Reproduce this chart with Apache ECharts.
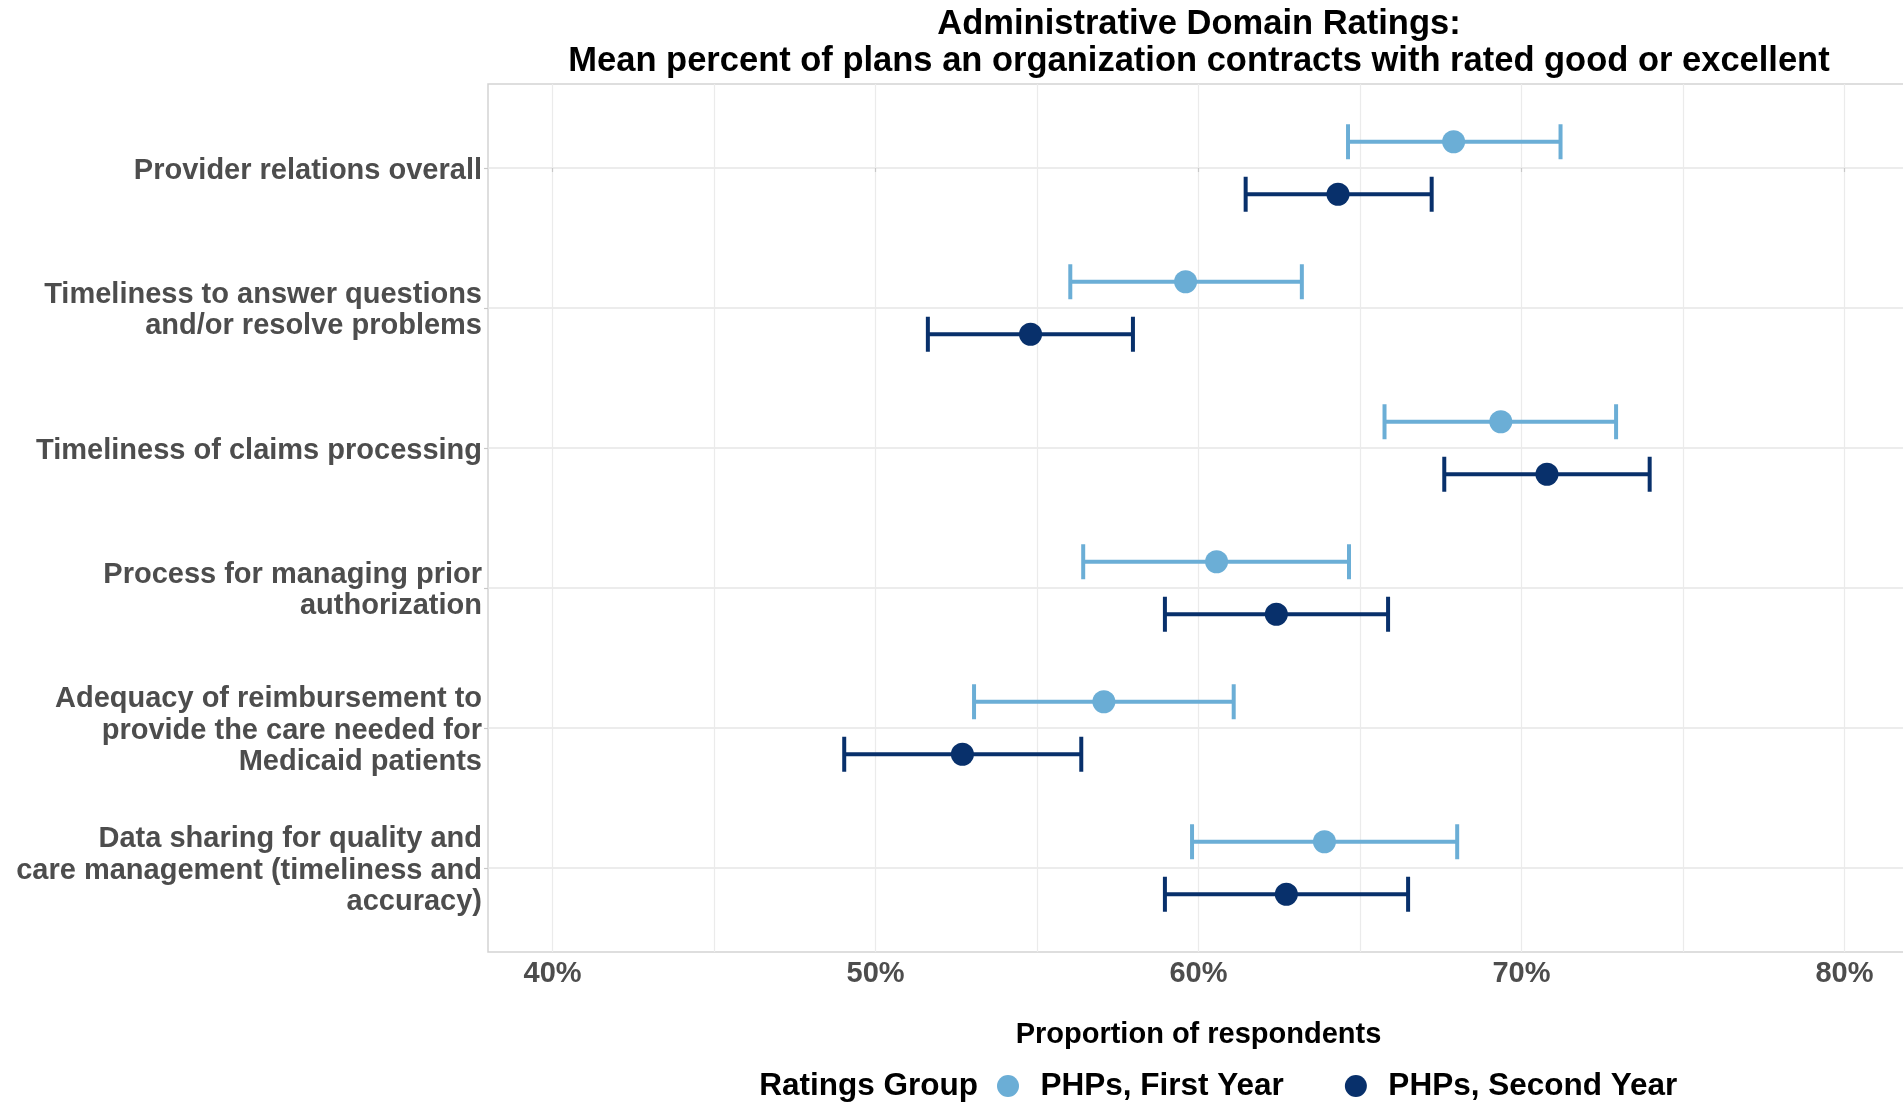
<!DOCTYPE html>
<html>
<head>
<meta charset="utf-8">
<title>Administrative Domain Ratings</title>
<script src="https://cdn.jsdelivr.net/npm/echarts@6/dist/echarts.min.js"></script>
<style>
  html, body { margin: 0; padding: 0; background: #ffffff; }
  #chart { width: 1903px; height: 1102px; }
</style>
</head>
<body>
<div id="chart"></div>
<script>
// Rated domains, top to bottom
const categories = [
  'Provider relations overall',
  'Timeliness to answer questions\nand/or resolve problems',
  'Timeliness of claims processing',
  'Process for managing prior\nauthorization',
  'Adequacy of reimbursement to\nprovide the care needed for\nMedicaid patients',
  'Data sharing for quality and\ncare management (timeliness and\naccuracy)'
];

// PHPs, First Year: mean and interval bounds (%)
const firstMean = [67.9, 59.6, 69.36, 60.56, 57.07, 63.9];
const firstLow  = [64.63, 56.03, 65.76, 56.43, 53.05, 59.8];
const firstHigh = [71.21, 63.2, 72.93, 64.66, 61.09, 68.01];

// PHPs, Second Year: mean and interval bounds (%)
const secondMean = [64.32, 54.8, 70.79, 62.41, 52.69, 62.72];
const secondLow  = [61.46, 51.62, 67.61, 58.96, 49.03, 58.96];
const secondHigh = [67.22, 57.97, 73.97, 65.87, 56.37, 66.49];

const xTicks = [40, 50, 60, 70, 80];
const xGrid = [40, 45, 50, 55, 60, 65, 70, 75, 80];

const groupNames = ['PHPs, First Year', 'PHPs, Second Year'];
const groupColors = ['#6BAED6', '#08306B'];

const FONT = '"Liberation Sans", Arial, sans-serif';
const DODGE = 0.1875;      // vertical offset of each group from its row
const CAP = 0.125;         // half-height of the error bar caps (row units)
const LABEL_NUDGE = 0.018; // small downward shift of the row labels

const rows = categories.map((_, i) => i);

function pointData(means, off) {
  return means.map((v, i) => [v, i + off]);
}
function barData(lows, highs, off) {
  return lows.map((lo, i) => [lo, highs[i], i + off]);
}

function errorBarRenderer(color) {
  return function (params, api) {
    const lo = api.value(0), hi = api.value(1), y = api.value(2);
    const p1 = api.coord([lo, y]);
    const p2 = api.coord([hi, y]);
    const yTop = api.coord([lo, y - CAP])[1];
    const yBot = api.coord([lo, y + CAP])[1];
    const style = { stroke: color, lineWidth: 4 };
    return {
      type: 'group',
      children: [
        { type: 'line', shape: { x1: p1[0], y1: p1[1], x2: p2[0], y2: p2[1] }, style },
        { type: 'line', shape: { x1: p1[0], y1: yTop, x2: p1[0], y2: yBot }, style },
        { type: 'line', shape: { x1: p2[0], y1: yTop, x2: p2[0], y2: yBot }, style }
      ]
    };
  };
}

const offsets = [-DODGE, DODGE];
const means = [firstMean, secondMean];
const lows = [firstLow, secondLow];
const highs = [firstHigh, secondHigh];

const series = [];
groupNames.forEach((name, g) => {
  series.push({
    name,
    type: 'custom',
    renderItem: errorBarRenderer(groupColors[g]),
    encode: { x: [0, 1], y: 2 },
    itemStyle: { color: groupColors[g] },
    data: barData(lows[g], highs[g], offsets[g]),
    z: 2,
    silent: true
  });
});
groupNames.forEach((name, g) => {
  series.push({
    name,
    type: 'scatter',
    symbol: 'circle',
    symbolSize: 23,
    itemStyle: { color: groupColors[g], opacity: 1 },
    data: pointData(means[g], offsets[g]),
    z: 3
  });
});

const chart = echarts.init(document.getElementById('chart'), null, { renderer: 'canvas' });
chart.setOption({
  animation: false,
  backgroundColor: '#ffffff',
  title: [
    {
      text: 'Administrative Domain Ratings:\nMean percent of plans an organization contracts with rated good or excellent',
      left: 1199,
      top: 6,
      padding: 0,
      textAlign: 'center',
      textStyle: { fontFamily: FONT, fontSize: 34.5, fontWeight: 'bold', color: '#000000', lineHeight: 37 }
    },
    {
      text: 'Ratings Group',
      left: 978,
      top: 1068,
      padding: 0,
      textAlign: 'right',
      textStyle: { fontFamily: FONT, fontSize: 31.5, fontWeight: 'bold', color: '#000000', lineHeight: 36 }
    }
  ],
  legend: {
    left: 997,
    top: 1068,
    padding: 0,
    itemWidth: 55,
    itemHeight: 22,
    itemGap: 61,
    selectedMode: false,
    data: groupNames.map(n => ({ name: n, icon: 'circle' })),
    textStyle: { fontFamily: FONT, fontSize: 31.5, fontWeight: 'bold', color: '#000000', lineHeight: 36 }
  },
  grid: {
    left: 488,
    top: 84,
    width: 1421,
    bottom: 150,
    show: true,
    borderColor: '#D3D3D3',
    borderWidth: 1.5,
    containLabel: false,
    outerBoundsMode: 'none'
  },
  xAxis: [
    {
      type: 'value',
      min: 38,
      max: 82,
      position: 'bottom',
      name: 'Proportion of respondents',
      nameLocation: 'middle',
      nameGap: 65,
      nameTextStyle: { fontFamily: FONT, fontSize: 29, fontWeight: 'bold', color: '#000000', lineHeight: 36 },
      axisLine: { show: false },
      axisTick: { show: true, length: 4, customValues: xTicks, lineStyle: { color: '#C8C8C8', width: 1.2 } },
      axisLabel: {
        customValues: xTicks,
        margin: 5,
        formatter: v => v + '%',
        fontFamily: FONT, fontSize: 29, fontWeight: 'bold', color: '#4D4D4D', lineHeight: 34
      },
      splitLine: { show: false }
    },
    {
      type: 'value',
      min: 38,
      max: 82,
      position: 'bottom',
      axisLine: { show: false },
      axisTick: { show: false, customValues: xGrid },
      axisLabel: { show: false, customValues: xGrid },
      splitLine: { show: true, lineStyle: { color: '#EBEBEB', width: 1.2 } }
    }
  ],
  yAxis: {
    type: 'value',
    inverse: true,
    min: -0.6,
    max: 5.6,
    axisLine: { show: false },
    axisTick: { show: true, length: 4, customValues: rows, lineStyle: { color: '#C8C8C8', width: 1.2 } },
    axisLabel: {
      customValues: rows.map(i => i + LABEL_NUDGE),
      margin: 6,
      formatter: v => categories[Math.round(v)],
      fontFamily: FONT, fontSize: 29, fontWeight: 'bold', color: '#4D4D4D', lineHeight: 31.5, align: 'right'
    },
    splitLine: { show: true, lineStyle: { color: '#E6E6E6', width: 1.5 } }
  },
  series
});
</script>
</body>
</html>
